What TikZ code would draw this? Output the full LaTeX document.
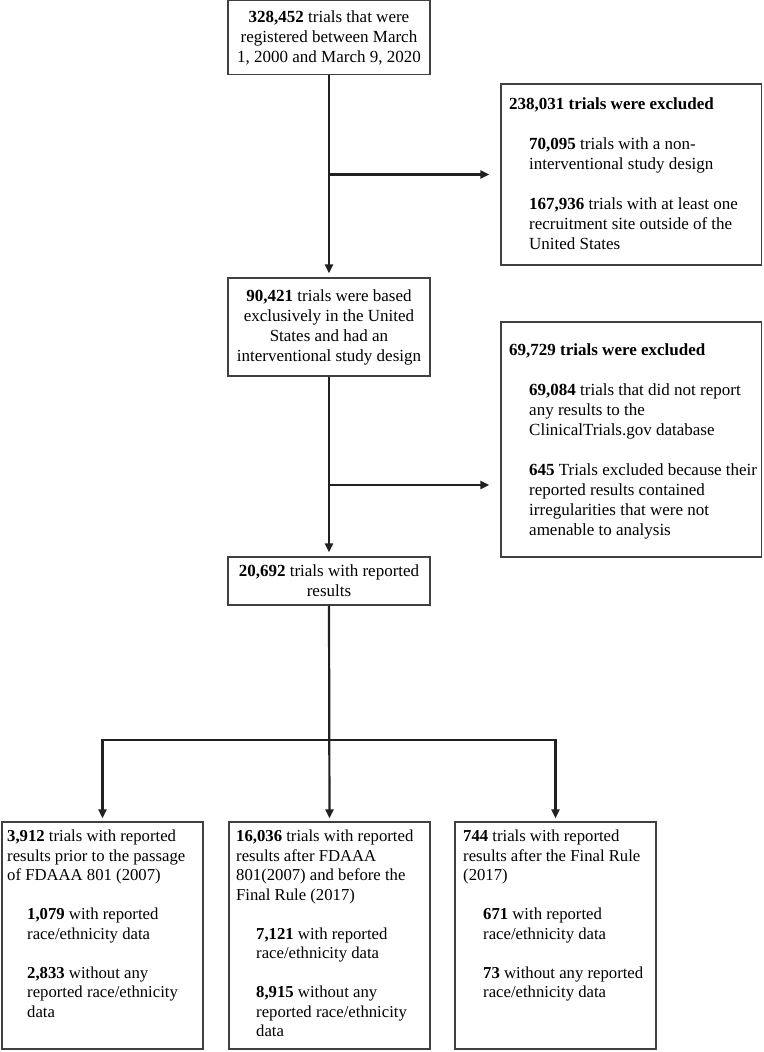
\documentclass[tikz,border=0pt]{standalone}
\usepackage{fontspec}
\setmainfont{Liberation Serif}
\usetikzlibrary{arrows.meta,calc}
\definecolor{boxgray}{gray}{0.25}
\definecolor{linegray}{gray}{0.13}
\begin{document}
\begin{tikzpicture}[x=1pt,y=-1pt,
  cbox/.style={draw=boxgray, line width=1.3pt, align=center, inner sep=0pt,
    font=\fontsize{17}{20}\selectfont},
  rbox/.style={draw=boxgray, line width=1.3pt, inner sep=0pt},
  txt/.style={align=left, inner sep=0pt, anchor=north west, font=\fontsize{17}{20}\selectfont},
  btxt/.style={align=left, inner sep=0pt, anchor=north west, font=\fontsize{16.7}{19.5}\selectfont},
  conn/.style={draw=linegray, line width=2.2pt, -{Triangle[length=9pt,width=8pt]}}]
\useasboundingbox (0,0) rectangle (763,1052);

% main column
\node[cbox, minimum width=202pt, minimum height=74pt] (b1) at (329,37.5)
  {\textbf{328,452} trials that were\\ registered between March\\ 1, 2000 and March 9, 2020};
\node[cbox, minimum width=202pt, minimum height=98pt] (b2) at (329,327)
  {\textbf{90,421} trials were based\\ exclusively in the United\\ States and had an\\ interventional study design};
\node[cbox, minimum width=202pt, minimum height=48pt] (b3) at (329,581)
  {\textbf{20,692} trials with reported\\ results};

% exclusion boxes
\node[rbox, minimum width=260.5pt, minimum height=181pt] (e1) at (631.25,174.5) {};
\node[txt] (e1t) at (509,98)
  {\textbf{238,031 trials were excluded}\\[20pt]
   \hspace*{20pt}\textbf{70,095} trials with a non-\\
   \hspace*{20pt}interventional study design\\[20pt]
   \hspace*{20pt}\textbf{167,936} trials with at least one\\
   \hspace*{20pt}recruitment site outside of the\\
   \hspace*{20pt}United States};
\node[rbox, minimum width=260.5pt, minimum height=235pt] (e2) at (631.25,439.5) {};
\node[txt] (e2t) at (509,343)
  {\textbf{69,729 trials were excluded}\\[20pt]
   \hspace*{20pt}\textbf{69,084} trials that did not report\\
   \hspace*{20pt}any results to the\\
   \hspace*{20pt}ClinicalTrials.gov database\\[20pt]
   \hspace*{20pt}\textbf{645} Trials excluded because their\\
   \hspace*{20pt}reported results contained\\
   \hspace*{20pt}irregularities that were not\\
   \hspace*{20pt}amenable to analysis};

% bottom boxes
\node[rbox, minimum width=201pt, minimum height=227pt] (bA) at (102.5,935.5) {};
\node[btxt] (bAt) at (7,830)
  {\textbf{3,912} trials with reported\\
   results prior to the passage\\
   of FDAAA 801 (2007)\\[19.5pt]
   \hspace*{20pt}\textbf{1,079} with reported\\
   \hspace*{20pt}race/ethnicity data\\[19.5pt]
   \hspace*{20pt}\textbf{2,833} without any\\
   \hspace*{20pt}reported race/ethnicity\\
   \hspace*{20pt}data};
\node[rbox, minimum width=201pt, minimum height=227pt] (bB) at (329.5,935.5) {};
\node[btxt] (bBt) at (236,830)
  {\textbf{16,036} trials with reported\\
   results after FDAAA\\
   801(2007) and before the\\
   Final Rule (2017)\\[19.5pt]
   \hspace*{20pt}\textbf{7,121} with reported\\
   \hspace*{20pt}race/ethnicity data\\[19.5pt]
   \hspace*{20pt}\textbf{8,915} without any\\
   \hspace*{20pt}reported race/ethnicity\\
   \hspace*{20pt}data};
\node[rbox, minimum width=201pt, minimum height=227pt] (bC) at (555.5,935.5) {};
\node[btxt] (bCt) at (463,830)
  {\textbf{744} trials with reported\\
   results after the Final Rule\\
   (2017)\\[19.5pt]
   \hspace*{20pt}\textbf{671} with reported\\
   \hspace*{20pt}race/ethnicity data\\[19.5pt]
   \hspace*{20pt}\textbf{73} without any reported\\
   \hspace*{20pt}race/ethnicity data};

% connectors
\coordinate (j1) at (b1.south |- e1.west);
\coordinate (j2) at (329,485);
\coordinate (j3) at (329,740);
\draw[conn, shorten >=4pt] (b1.south) -- (b2.north);
\draw[conn, shorten >=11pt] (j1) -- (e1.west);
\draw[conn, shorten >=4pt] (b2.south) -- (b3.north);
\draw[conn, shorten >=11pt] (j2) -- (j2 -| e2.west);
\draw[conn, shorten >=3pt] (b3.south) -- (bB.north);
\draw[conn, shorten >=3pt] (j3) -| (bA.north);
\draw[conn, shorten >=3pt] (j3) -| (bC.north);
\end{tikzpicture}
\end{document}
